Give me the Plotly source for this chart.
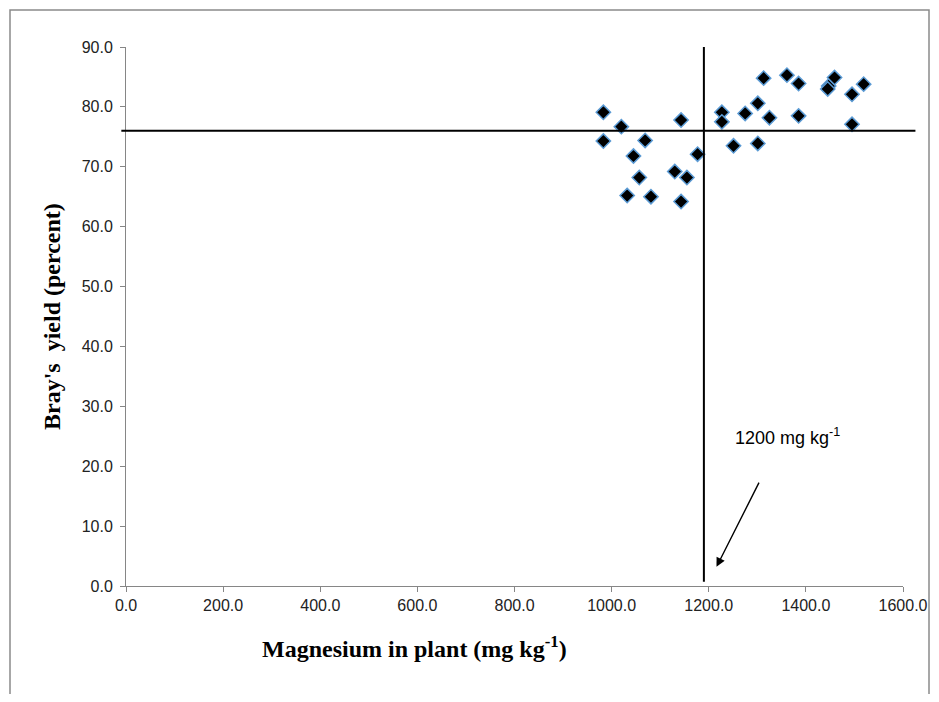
import plotly.graph_objects as go

# Data
mg_plant = [983, 1020, 983, 1069, 1143, 1045, 1177, 1130, 1155, 1057,
            1032, 1081, 1143, 1227, 1227, 1251, 1313, 1361, 1385, 1447,
            1445, 1459, 1519, 1495, 1301, 1275, 1325, 1385, 1495, 1301]
brays_yield = [79.1, 76.7, 74.3, 74.4, 77.8, 71.8, 72.1, 69.2, 68.2, 68.2,
               65.2, 65.0, 64.2, 79.1, 77.5, 73.5, 84.8, 85.3, 83.9, 83.5,
               83.0, 84.9, 83.8, 82.1, 80.6, 78.9, 78.2, 78.5, 77.1, 73.9]

critical_mg = 1190
critical_yield = 76.0
x_ticks = [0, 200, 400, 600, 800, 1000, 1200, 1400, 1600]
y_ticks = [0, 10, 20, 30, 40, 50, 60, 70, 80, 90]

# page body has an 8px margin; the figure is sized to fit inside it
W, H = 923, 686
L, R, T, B = 118, 28, 39, 108
pw, ph = W - L - R, H - T - B


def px(fx):
    return (fx - L) / pw


def py(fy):
    return (ph + T - fy) / ph


fig = go.Figure()

fig.add_trace(go.Scatter(
    x=mg_plant, y=brays_yield, mode="markers",
    marker=dict(symbol="diamond", size=11, color="black",
                line=dict(color="#5B9BD5", width=1.5)),
    cliponaxis=False, showlegend=False, hoverinfo="x+y"))

# critical level lines
fig.add_shape(type="line", xref="x", yref="y",
              x0=critical_mg, x1=critical_mg, y0=0.7, y1=90,
              line=dict(color="black", width=2))
fig.add_shape(type="line", xref="paper", yref="paper",
              x0=-0.006, x1=1.016, y0=critical_yield / 90, y1=critical_yield / 90,
              line=dict(color="black", width=2))

# outer frame
fig.add_shape(type="rect", xref="paper", yref="paper",
              x0=px(2), x1=px(921), y0=py(H + 20), y1=py(2),
              line=dict(color="#8a8a8a", width=1.5), fillcolor="rgba(0,0,0,0)", layer="below")

fig.add_annotation(x=1216, y=3.2, ax=1305, ay=17.5, xref="x", yref="y",
                   axref="x", ayref="y", text="", showarrow=True,
                   arrowhead=2, arrowsize=1.3, arrowwidth=1.4, arrowcolor="black")
fig.add_annotation(x=1362, y=25.0, xref="x", yref="y",
                   text="1200 mg kg<sup>-1</sup>", showarrow=False,
                   xanchor="center", yanchor="middle",
                   font=dict(family="Liberation Sans, Arial", size=18, color="black"))

fig.add_annotation(x=px(414 - 8), y=py(647 - 8), xref="paper", yref="paper",
                   xanchor="center", yanchor="middle",
                   text="<b>Magnesium in plant (mg kg<sup>-1</sup>)</b>", showarrow=False,
                   font=dict(family="Liberation Serif, Times New Roman", size=24, color="black"))
fig.add_annotation(x=px(52 - 8), y=py(317 - 8), xref="paper", yref="paper",
                   xanchor="center", yanchor="middle",
                   text="<b>Bray's  yield (percent)</b>", showarrow=False, textangle=-90,
                   font=dict(family="Liberation Serif, Times New Roman", size=24, color="black"))

axis_common = dict(showgrid=False, zeroline=False, showline=True, linecolor="#868686",
                   linewidth=1, ticks="outside", ticklen=5, tickcolor="#868686",
                   automargin=False,
                   tickfont=dict(family="Liberation Sans, Arial", size=16, color="#222"))

fig.update_xaxes(range=[0, 1600], tickvals=x_ticks,
                 ticktext=[f"{v:.1f}" for v in x_ticks], **axis_common)
fig.update_yaxes(range=[0, 90], tickvals=y_ticks, ticklabelstandoff=4,
                 ticktext=[f"{v:.1f}" for v in y_ticks], **axis_common)

fig.update_layout(width=W, height=H, margin=dict(l=L, r=R, t=T, b=B, autoexpand=False),
                  plot_bgcolor="white", paper_bgcolor="white")

fig.write_html("out.html")
